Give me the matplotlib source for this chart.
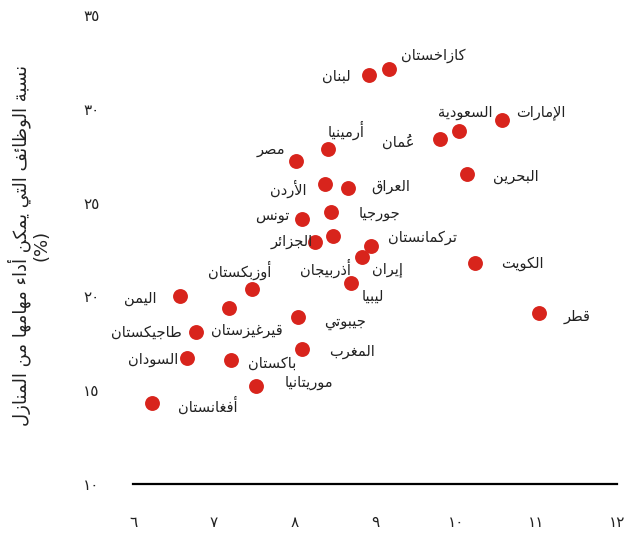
import matplotlib
matplotlib.use("Agg")
import matplotlib.pyplot as plt

# DATA (x: log GDP per capita, y: share of jobs that can be done from home, %)
countries = ["كازاخستان", "لبنان", "الإمارات", "السعودية", "عُمان", "أرمينيا", "مصر",
             "البحرين", "الأردن", "العراق", "جورجيا", "تونس", "أذربيجان", "الجزائر",
             "تركمانستان", "إيران", "ليبيا", "جيبوتي", "المغرب", "الكويت", "قطر",
             "أوزبكستان", "اليمن", "قيرغيزستان", "طاجيكستان", "السودان", "باكستان",
             "موريتانيا", "أفغانستان"]
x_vals = [9.17, 8.93, 10.57, 10.04, 9.81, 8.42, 8.02,
          10.14, 8.38, 8.66, 8.45, 8.10, 8.48, 8.26,
          8.95, 8.84, 8.70, 8.04, 8.10, 10.24, 11.03,
          7.47, 6.58, 7.19, 6.78, 6.67, 7.21,
          7.53, 6.24]
y_vals = [32.1, 31.8, 29.4, 28.8, 28.4, 27.85, 27.2,
          26.5, 26.0, 25.8, 24.5, 24.1, 23.2, 22.9,
          22.7, 22.1, 20.7, 18.9, 17.2, 21.8, 19.1,
          20.4, 20.0, 19.4, 18.1, 16.7, 16.6,
          15.2, 14.3]
x_ticks = [6, 7, 8, 9, 10, 11, 12]
y_ticks = [10, 15, 20, 25, 30, 35]
y_title = "نسبة الوظائف التي يمكن أداء مهامها من المنازل"

# label offsets in pixels (dx, dy) from each dot
label_offsets = [(45, 14), (-33, -1), (39, 8), (6, 19), (-42, -3), (18, 19), (-25, 12),
                 (49, -2), (-37, -5), (43, 1), (49, -2), (-30, 4), (-8, -32), (-24, 0),
                 (52, 8), (25, -12), (22, -13), (48, -5), (50, -3), (47, -1), (38, -3),
                 (-12, 19), (-40, -2), (18, -23), (-50, 0), (-34, -1), (42, -3),
                 (53, 4), (55, -2)]

# --- minimal Arabic shaping (matplotlib does no contextual shaping / bidi) ---
ARABIC = {'ء': (0xFE80, 1), 'آ': (0xFE81, 2), 'أ': (0xFE83, 2), 'ؤ': (0xFE85, 2),
          'إ': (0xFE87, 2), 'ئ': (0xFE89, 4), 'ا': (0xFE8D, 2), 'ب': (0xFE8F, 4),
          'ة': (0xFE93, 2), 'ت': (0xFE95, 4), 'ث': (0xFE99, 4), 'ج': (0xFE9D, 4),
          'ح': (0xFEA1, 4), 'خ': (0xFEA5, 4), 'د': (0xFEA9, 2), 'ذ': (0xFEAB, 2),
          'ر': (0xFEAD, 2), 'ز': (0xFEAF, 2), 'س': (0xFEB1, 4), 'ش': (0xFEB5, 4),
          'ص': (0xFEB9, 4), 'ض': (0xFEBD, 4), 'ط': (0xFEC1, 4), 'ظ': (0xFEC5, 4),
          'ع': (0xFEC9, 4), 'غ': (0xFECD, 4), 'ف': (0xFED1, 4), 'ق': (0xFED5, 4),
          'ك': (0xFED9, 4), 'ل': (0xFEDD, 4), 'م': (0xFEE1, 4), 'ن': (0xFEE5, 4),
          'ه': (0xFEE9, 4), 'و': (0xFEED, 2), 'ى': (0xFEEF, 2), 'ي': (0xFEF1, 4)}
LAMALEF = {'آ': 0xFEF5, 'أ': 0xFEF7, 'إ': 0xFEF9, 'ا': 0xFEFB}


def joins_prev(b):
    return b.startswith('LA') or (b in ARABIC and ARABIC[b][1] >= 2)


def joins_next(b):
    return b in ARABIC and ARABIC[b][1] == 4


def shape(text):
    cl = []
    for ch in text:
        if 0x064B <= ord(ch) <= 0x0652 and cl:
            cl[-1][1] += ch
        else:
            cl.append([ch, ''])
    merged = []
    i = 0
    while i < len(cl):
        b, m = cl[i]
        if b == 'ل' and i + 1 < len(cl) and cl[i + 1][0] in LAMALEF:
            merged.append(['LA' + cl[i + 1][0], m + cl[i + 1][1]])
            i += 2
        else:
            merged.append([b, m])
            i += 1
    out = []
    for i, (b, m) in enumerate(merged):
        prev = merged[i - 1][0] if i > 0 else None
        nxt = merged[i + 1][0] if i + 1 < len(merged) else None
        p = prev is not None and joins_next(prev) and joins_prev(b)
        if b.startswith('LA'):
            g = chr(LAMALEF[b[2]] + (1 if p else 0))
        elif b in ARABIC:
            start, n = ARABIC[b]
            nx = n == 4 and nxt is not None and joins_prev(nxt)
            if n == 1:
                g = chr(start)
            elif p and nx:
                g = chr(start + 3)
            elif p:
                g = chr(start + 1)
            elif nx:
                g = chr(start + 2)
            else:
                g = chr(start)
        else:
            g = b
        # mark drawn first so the base glyph lands on it
        out.append(m + g)
    return ''.join(reversed(out))


def ar_digits(v):
    return str(v).translate(str.maketrans('0123456789', '٠١٢٣٤٥٦٧٨٩'))


plt.rcParams['font.family'] = ['DejaVu Sans']

fig = plt.figure(figsize=(6.26, 5.33), dpi=100)
ax = fig.add_axes([133 / 626, 1 - 484 / 533, (617 - 133) / 626, (484 - 15) / 533])

ax.scatter(x_vals, y_vals, s=115, color='#d8241c', linewidths=0, zorder=3)
for name, x, y, off in zip(countries, x_vals, y_vals, label_offsets):
    ax.annotate(shape(name), (x, y), xytext=off, textcoords='offset pixels',
                ha='center', va='center', fontsize=10.5, color='#222222')

ax.set_xlim(6, 12)
ax.set_ylim(10, 35)
ax.set_xticks(x_ticks)
ax.set_xticklabels([ar_digits(t) for t in x_ticks])
ax.set_yticks(y_ticks)
ax.set_yticklabels([ar_digits(t) for t in y_ticks])
ax.tick_params(axis='x', length=0, pad=22, labelsize=11, colors='#222222')
ax.tick_params(axis='y', length=0, pad=24, labelsize=11, colors='#222222')
for s in ['top', 'right', 'left']:
    ax.spines[s].set_visible(False)
ax.spines['bottom'].set_linewidth(1.6)
ax.spines['bottom'].set_color('black')

fig.text(29 / 626, 1 - 245 / 533, shape(y_title) + "\n(%)", rotation=90,
         ha='center', va='center', fontsize=13, color='#222222',
         multialignment='center', linespacing=1.15)

fig.savefig('out.png', dpi=100)
